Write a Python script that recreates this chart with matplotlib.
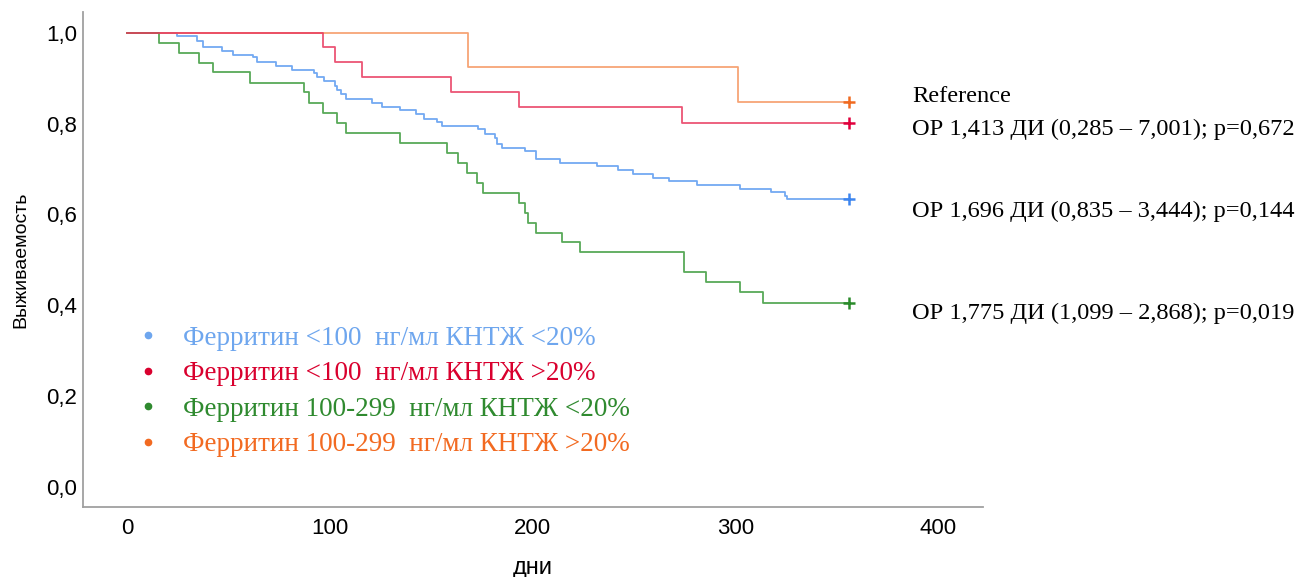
import matplotlib
matplotlib.use("Agg")
from matplotlib import pyplot as plt
from matplotlib.lines import Line2D

# ---- data (days, survival) ----
t_end = 356

blue_t = [0, 24.4, 34.2, 37.5, 46.5, 52.3, 61.8, 64.1, 73.3, 81.4, 92.1, 93.4, 97.0, 102.4,
          103.3, 105.2, 107.7, 120.5, 125.5, 134.5, 142.2, 146.3, 152.6, 155.4, 173.1, 176.4,
          181.4, 182.5, 185.0, 196.2, 201.4, 213.4, 231.5, 242.2, 249.3, 259.1, 267.3, 281.1,
          302.2, 317.3, 324.4, 325.2]
blue_s = [1.0, 0.993, 0.983, 0.968, 0.959, 0.952, 0.946, 0.935, 0.926, 0.919, 0.911, 0.902, 0.893, 0.884,
          0.874, 0.866, 0.855, 0.845, 0.836, 0.830, 0.821, 0.811, 0.804, 0.795, 0.788, 0.778,
          0.769, 0.754, 0.747, 0.739, 0.722, 0.714, 0.706, 0.697, 0.690, 0.681, 0.673, 0.664,
          0.656, 0.650, 0.640, 0.633]

red_t = [0, 96.4, 102.4, 115.6, 159.5, 193.3, 273.4]
red_s = [1.0, 0.968, 0.935, 0.902, 0.869, 0.836, 0.802]

green_t = [0, 15.5, 25.5, 35.4, 42.4, 60.5, 87.2, 89.5, 96.5, 103.6, 107.7, 134.5, 157.5, 163.3,
           167.4, 172.3, 175.3, 193.4, 196.3, 197.4, 201.6, 214.4, 223.4, 274.4, 285.4, 302.4, 313.4]
green_s = [1.0, 0.978, 0.956, 0.934, 0.913, 0.890, 0.869, 0.846, 0.824, 0.802, 0.780, 0.758, 0.736, 0.714,
           0.692, 0.670, 0.648, 0.626, 0.604, 0.582, 0.560, 0.538, 0.516, 0.472, 0.450, 0.428, 0.405]

orange_t = [0, 168.2, 301.4]
orange_s = [1.0, 0.924, 0.848]

labels = ["Ферритин <100  нг/мл КНТЖ <20%",
          "Ферритин <100  нг/мл КНТЖ >20%",
          "Ферритин 100-299  нг/мл КНТЖ <20%",
          "Ферритин 100-299  нг/мл КНТЖ >20%"]

hr_texts = ["Reference",
            "ОР 1,413 ДИ (0,285 – 7,001); p=0,672",
            "ОР 1,696 ДИ (0,835 – 3,444); p=0,144",
            "ОР 1,775 ДИ (1,099 – 2,868); p=0,019"]
hr_y = [0.859, 0.787, 0.606, 0.381]

x_ticks = [0, 100, 200, 300, 400]
y_ticks = [0.0, 0.2, 0.4, 0.6, 0.8, 1.0]
y_tick_labels = ["0,0", "0,2", "0,4", "0,6", "0,8", "1,0"]

# colours: line, censor mark, legend text
line_col = ["#5b9bf0", "#e8385e", "#3c9a3c", "#f5955f"]
mark_col = ["#3d85ef", "#e0003c", "#2a8a2a", "#f06a20"]
text_col = ["#6ea6ee", "#d9002e", "#2f8a2f", "#f26a21"]

series = [(blue_t, blue_s), (red_t, red_s), (green_t, green_s), (orange_t, orange_s)]
order = [0, 3, 2, 1]   # red ends up on top like in the original

fig = plt.figure(figsize=(12.99, 5.77), dpi=100)
ax = fig.add_axes([0.0639, 0.1213, 0.6928, 0.8579])

for i in order:
    t, s = series[i]
    ax.step(t + [t_end], s + [s[-1]], where="post", color=line_col[i], lw=1.3, alpha=0.85)
    ax.plot([t_end], [s[-1]], marker="+", ms=8, mew=1.8, color=mark_col[i], ls="")

ax.set_xlim(-21.85, 422)
ax.set_ylim(-0.045, 1.046)
ax.set_xticks(x_ticks)
ax.set_yticks(y_ticks)
ax.set_yticklabels(y_tick_labels)
for lab in ax.get_xticklabels() + ax.get_yticklabels():
    lab.set_fontfamily("Liberation Sans")
    lab.set_fontsize(16)
ax.tick_params(axis="both", length=0)
ax.tick_params(axis="x", pad=8)
ax.tick_params(axis="y", pad=4)

for side in ["top", "right"]:
    ax.spines[side].set_visible(False)
for side in ["left", "bottom"]:
    ax.spines[side].set_color("#a0a0a0")
    ax.spines[side].set_linewidth(1.3)

ax.set_xlabel("дни", fontfamily="Liberation Sans", fontsize=17, labelpad=13)
ax.set_ylabel("Выживаемость", fontfamily="Liberation Sans", fontsize=14, labelpad=12)

handles = [Line2D([], [], marker="o", ms=4.5, ls="", color=text_col[i]) for i in range(4)]
leg = ax.legend(handles, labels, loc="upper left", bbox_to_anchor=(0.0572, 0.366),
                frameon=False, borderpad=0, borderaxespad=0, handlelength=1.0,
                handletextpad=0.8, labelspacing=0.385, labelcolor=text_col,
                prop={"family": "Liberation Serif", "size": 19.5})

for txt, yv in zip(hr_texts, hr_y):
    ax.text(387, yv, txt, fontfamily="Liberation Serif", fontsize=17.6,
            va="center", ha="left", clip_on=False)

fig.savefig("out.png", dpi=100)
